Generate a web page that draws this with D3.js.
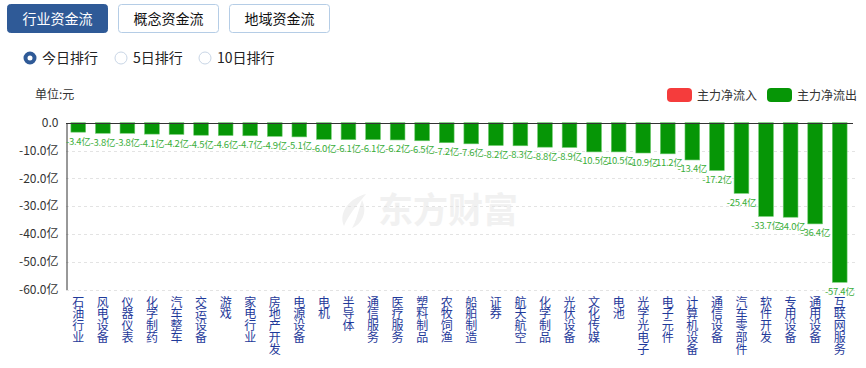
<!DOCTYPE html>
<meta charset="utf-8">
<script src="https://d3js.org/d3.v7.min.js"></script>
<style>
    body { margin: 0; background: #fff; }
    svg text { font-family: "Noto Sans CJK SC", "Noto Sans", sans-serif; }
</style>
<div id="chart"></div>
<script>
// tabs and radio options
const tabs = ["行业资金流", "概念资金流", "地域资金流"];
const ranks = ["今日排行", "5日排行", "10日排行"];

// industries, net main-force flow in 亿元
const categories = ["石油行业", "风电设备", "仪器仪表", "化学制药", "汽车整车", "交运设备", "游戏", "家电行业",
    "房地产开发", "电源设备", "电机", "半导体", "通信服务", "医疗服务", "塑料制品", "农牧饲渔",
    "船舶制造", "证券", "航天航空", "化学制品", "光伏设备", "文化传媒", "电池", "光学光电子",
    "电子元件", "计算机设备", "通信设备", "汽车零部件", "软件开发", "专用设备", "通用设备", "互联网服务"];
const values = [-3.4, -3.8, -3.8, -4.1, -4.2, -4.5, -4.6, -4.7, -4.9, -5.1, -6.0, -6.1, -6.1, -6.2, -6.5, -7.2,
    -7.6, -8.2, -8.3, -8.8, -8.9, -10.5, -10.5, -10.9, -11.2, -13.4, -17.2, -25.4, -33.7, -34.0, -36.4, -57.4];
const yTicks = [0, -10, -20, -30, -40, -50, -60];
const legendItems = ["主力净流入", "主力净流出"];

const W = 866, H = 368;
const m = {left: 66, right: 14, top: 123, bottom: 78};

const svg = d3.select("#chart").append("svg").attr("width", W).attr("height", H);

// tab buttons
const tabX = [7, 118, 229];
tabs.forEach((t, i) => {
    svg.append("rect").attr("x", tabX[i] + 0.5).attr("y", 4.5).attr("width", 100).attr("height", 28)
        .attr("rx", 3).attr("fill", i === 0 ? "#2f5a97" : "#fff")
        .attr("stroke", i === 0 ? "#2f5a97" : "#b5cde6");
    svg.append("text").attr("x", tabX[i] + 50.5).attr("y", 23.5).attr("text-anchor", "middle")
        .attr("font-size", 14).attr("fill", i === 0 ? "#fff" : "#111").text(t);
});

// radios
const radioX = [30, 121, 205];
ranks.forEach((t, i) => {
    if (i === 0) {
        svg.append("circle").attr("cx", radioX[i]).attr("cy", 58).attr("r", 4.5).attr("fill", "#fff")
            .attr("stroke", "#2f5a97").attr("stroke-width", 4);
    } else {
        svg.append("circle").attr("cx", radioX[i]).attr("cy", 58).attr("r", 6).attr("fill", "#fff")
            .attr("stroke", "#c9d6e6");
    }
    svg.append("text").attr("x", radioX[i] + 12).attr("y", 63).attr("font-size", 14).attr("fill", "#222").text(t);
});

// unit
svg.append("text").attr("x", 35).attr("y", 99).attr("font-size", 12).attr("fill", "#333").text("单位:元");

// legend
const legColors = ["#f53c3c", "#069606"];
const legX = [667, 767];
legendItems.forEach((t, i) => {
    svg.append("rect").attr("x", legX[i]).attr("y", 88).attr("width", 25).attr("height", 14).attr("rx", 4)
        .attr("fill", legColors[i]);
    svg.append("text").attr("x", legX[i] + 30).attr("y", 99.5).attr("font-size", 12).attr("fill", "#333").text(t);
});

// watermark
const wm = svg.append("g").attr("fill", "#f1f1f1");
wm.append("path").attr("d", "M366,194 C350,198 338,212 344,226 C348,216 356,206 366,194 Z M362,200 C358,212 356,222 352,228 C362,224 368,212 362,200 Z");
wm.append("text").attr("x", 378).attr("y", 223).attr("font-size", 35).attr("font-weight", "bold").text("东方财富");

const x = d3.scaleBand().domain(categories).range([m.left, W - m.right]).paddingInner(0.4).paddingOuter(0.2);
const y = d3.scaleLinear().domain([-60, 0]).range([H - m.bottom - 0.5, m.top - 0.3]);
const fmt = d => d.toFixed(1);

// grid lines
svg.append("g").selectAll("line").data(yTicks.filter(d => d !== 0)).join("line")
    .attr("x1", m.left).attr("x2", W - 8)
    .attr("y1", d => Math.round(y(d)) + 0.5).attr("y2", d => Math.round(y(d)) + 0.5)
    .attr("stroke", "#e3e3e3").attr("stroke-dasharray", "3,3");

// y axis
const yAxis = svg.append("g").attr("transform", `translate(${m.left + 0.5},0)`)
    .call(d3.axisLeft(y).tickValues(yTicks).tickSize(0).tickPadding(8)
        .tickFormat(d => d === 0 ? "0.0" : fmt(d) + "亿"));
yAxis.select(".domain").attr("stroke", "#333");
yAxis.selectAll("text").attr("font-size", 12).attr("fill", "#333")
    .attr("font-family", "'Noto Sans CJK SC', sans-serif");

// bars
svg.append("g").selectAll("rect").data(values).join("rect")
    .attr("x", (d, i) => x(categories[i]))
    .attr("y", y(0))
    .attr("width", x.bandwidth())
    .attr("height", d => y(d) - y(0))
    .attr("fill", "#069606").attr("stroke", "#6fcb6f").attr("stroke-width", 0.6);

// zero line
svg.append("line").attr("x1", m.left).attr("x2", W - m.right + 1)
    .attr("y1", Math.round(y(0)) + 0.5).attr("y2", Math.round(y(0)) + 0.5)
    .attr("stroke", "#333");

// value labels
svg.append("g").selectAll("text").data(values).join("text")
    .attr("x", (d, i) => x(categories[i]) + x.bandwidth() / 2)
    .attr("y", d => y(d) + 12.5)
    .attr("text-anchor", "middle").attr("font-size", 9.5).attr("fill", "#3aae3a")
    .style("letter-spacing", "-0.3px")
    .text(d => fmt(d) + "亿");

// vertical category labels
svg.append("g").selectAll("text").data(categories).join("text")
    .attr("x", c => x(c) + x.bandwidth() / 2)
    .attr("y", 296)
    .attr("writing-mode", "tb")
    .style("text-orientation", "upright")
    .style("letter-spacing", "-0.2px")
    .attr("font-size", 12).attr("fill", "#1f3a9a")
    .text(c => c);
</script>
